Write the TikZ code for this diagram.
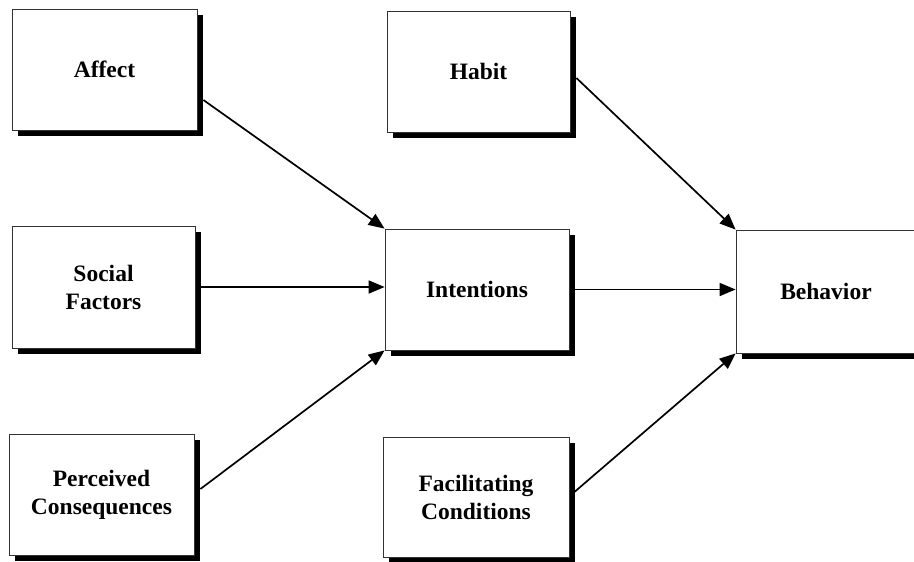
\documentclass[tikz,border=0pt]{standalone}
\usepackage{fontspec}
\setmainfont{Liberation Serif}
\usetikzlibrary{arrows.meta,calc,shadows}
\begin{document}
\begin{tikzpicture}[x=1pt,y=-1pt,
  box/.style={draw=black!80, line width=0.8pt, fill=white, inner sep=0pt,
    align=center, font=\fontsize{23.5}{28}\selectfont\bfseries,
    drop shadow={shadow xshift=6pt, shadow yshift=-6pt, fill=black, opacity=1}},
  link/.style={line width=1.7pt, -{Triangle[length=16pt,width=13pt]}}]
\useasboundingbox (0,0) rectangle (914,562);
\node[box, minimum width=185pt, minimum height=121pt] (affect) at (104.5,69.5) {Affect};
\node[box, minimum width=183pt, minimum height=122pt] (social) at (103.5,287) {Social\\Factors};
\node[box, minimum width=185pt, minimum height=121pt] (perc) at (101.5,494.5) {Perceived\\Consequences};
\node[box, minimum width=183pt, minimum height=121pt] (habit) at (478.5,71.5) {Habit};
\node[box, minimum width=184pt, minimum height=121pt] (intent) at (477,289.5) {Intentions};
\node[box, minimum width=186pt, minimum height=120pt] (facil) at (476,497) {Facilitating\\Conditions};
\node[box, minimum width=180pt, minimum height=123pt] (behav) at (826,291.5) {Behavior};
\draw[link] ($(affect.east)+(6,30.5)$) -- (intent.north west);
\draw[link] ($(social.east)+(6,0)$) -- (social.east -| intent.west);
\draw[link] ($(perc.east)+(6,-5.5)$) -- (intent.south west);
\draw[link] ($(habit.east)+(6,6.5)$) -- (behav.north west);
\draw[link] ($(intent.east)+(5,0)$) -- (intent.east -| behav.west);
\draw[link] ($(facil.east)+(5,-5)$) -- (behav.south west);
\end{tikzpicture}
\end{document}
